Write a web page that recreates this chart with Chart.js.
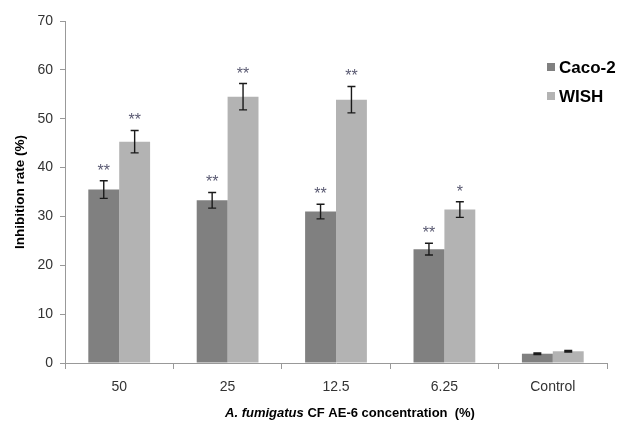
<!DOCTYPE html>
<html>
<head>
<meta charset="utf-8">
<script src="https://cdn.jsdelivr.net/npm/chart.js@4/dist/chart.umd.min.js"></script>
<style>
html,body{margin:0;padding:0;background:#fff;}
#wrap{width:621px;height:422px;position:relative;}
</style>
</head>
<body>
<div id="wrap"><canvas id="c" width="621" height="422"></canvas></div>
<script>
const categories = ["50", "25", "12.5", "6.25", "Control"];
const caco2 = [35.5, 33.3, 31.0, 23.3, 1.9];
const caco2Err = [1.8, 1.6, 1.5, 1.2, 0.15];
const wish = [45.3, 54.5, 53.9, 31.4, 2.4];
const wishErr = [2.3, 2.7, 2.7, 1.6, 0.15];
const caco2Stars = ["**", "**", "**", "**", ""];
const wishStars = ["**", "**", "**", "*", ""];
const yTicks = [0, 10, 20, 30, 40, 50, 60, 70];

const FONT = "'Liberation Sans', Arial, sans-serif";

const errorBars = {
  id: 'errorBars',
  afterDatasetsDraw(chart) {
    const ctx = chart.ctx;
    const y = chart.scales.y;
    chart.data.datasets.forEach((ds, di) => {
      const meta = chart.getDatasetMeta(di);
      meta.data.forEach((bar, i) => {
        const v = ds.data[i], e = ds.errors[i];
        const yt = y.getPixelForValue(v + e);
        const yb = y.getPixelForValue(v - e);
        const x = bar.x;
        ctx.save();
        ctx.strokeStyle = '#1a1a1a';
        ctx.lineWidth = 1.4;
        ctx.beginPath();
        ctx.moveTo(x, yt); ctx.lineTo(x, yb);
        ctx.moveTo(x - 4, yt); ctx.lineTo(x + 4, yt);
        ctx.moveTo(x - 4, yb); ctx.lineTo(x + 4, yb);
        ctx.stroke();
        const s = ds.stars[i];
        if (s) {
          ctx.fillStyle = '#5a5a72';
          ctx.font = '16px ' + FONT;
          ctx.textAlign = 'center';
          ctx.textBaseline = 'alphabetic';
          ctx.fillText(s, x, yt - 5);
        }
        ctx.restore();
      });
    });
  }
};

const customLegend = {
  id: 'customLegend',
  afterDraw(chart) {
    const ctx = chart.ctx;
    const x0 = 547, ys = [67, 96];
    chart.data.datasets.forEach((ds, i) => {
      ctx.save();
      ctx.fillStyle = ds.backgroundColor;
      ctx.fillRect(x0, ys[i] - 4, 8, 8);
      ctx.fillStyle = '#000';
      ctx.font = 'bold 17px ' + FONT;
      ctx.textAlign = 'left';
      ctx.textBaseline = 'middle';
      ctx.fillText(ds.label, x0 + 12, ys[i] + 1);
      ctx.restore();
    });
  }
};

const xTitle = {
  id: 'xTitle',
  afterDraw(chart) {
    const ctx = chart.ctx;
    const p1 = 'A. fumigatus';
    const p2 = ' CF AE-6 concentration  (%)';
    ctx.save();
    ctx.fillStyle = '#000';
    ctx.textBaseline = 'middle';
    ctx.textAlign = 'left';
    ctx.font = 'italic bold 13px ' + FONT;
    const w1 = ctx.measureText(p1).width;
    ctx.font = 'bold 13px ' + FONT;
    const w2 = ctx.measureText(p2).width;
    const cx = 350, cy = 413;
    let x = cx - (w1 + w2) / 2;
    ctx.font = 'italic bold 13px ' + FONT;
    ctx.fillText(p1, x, cy);
    ctx.font = 'bold 13px ' + FONT;
    ctx.fillText(p2, x + w1, cy);
    ctx.restore();
  }
};

new Chart(document.getElementById('c'), {
  type: 'bar',
  data: {
    labels: categories,
    datasets: [
      { label: 'Caco-2', data: caco2, errors: caco2Err, stars: caco2Stars,
        backgroundColor: '#808080', borderWidth: 0,
        categoryPercentage: 0.57, barPercentage: 1.0 },
      { label: 'WISH', data: wish, errors: wishErr, stars: wishStars,
        backgroundColor: '#b3b3b3', borderWidth: 0,
        categoryPercentage: 0.57, barPercentage: 1.0 }
    ]
  },
  options: {
    responsive: false,
    animation: false,
    devicePixelRatio: 1,
    layout: { padding: { top: 21, right: 14, left: 0, bottom: 0 } },
    plugins: { legend: { display: false }, tooltip: { enabled: false } },
    scales: {
      x: {
        grid: { display: true, drawOnChartArea: false, drawTicks: true, tickLength: 6, color: '#999', offset: true },
        border: { display: true, color: '#999', width: 1 },
        ticks: { font: { size: 14, family: FONT }, color: '#333', padding: 10 },
        afterFit(s) { s.height = 59; }
      },
      y: {
        min: 0, max: 70,
        afterBuildTicks(s) { s.ticks = yTicks.map(v => ({ value: v })); },
        grid: { display: true, drawOnChartArea: false, drawTicks: true, tickLength: 5, color: '#999' },
        border: { display: true, color: '#999', width: 1 },
        ticks: { font: { size: 14, family: FONT }, color: '#333', padding: 7 },
        title: { display: true, text: 'Inhibition rate (%)', color: '#000',
                 font: { size: 13.5, weight: 'bold', family: FONT }, padding: { top: 12, bottom: 0 } },
        afterFit(s) { s.width = 65; }
      }
    }
  },
  plugins: [errorBars, customLegend, xTitle]
});
</script>
</body>
</html>
